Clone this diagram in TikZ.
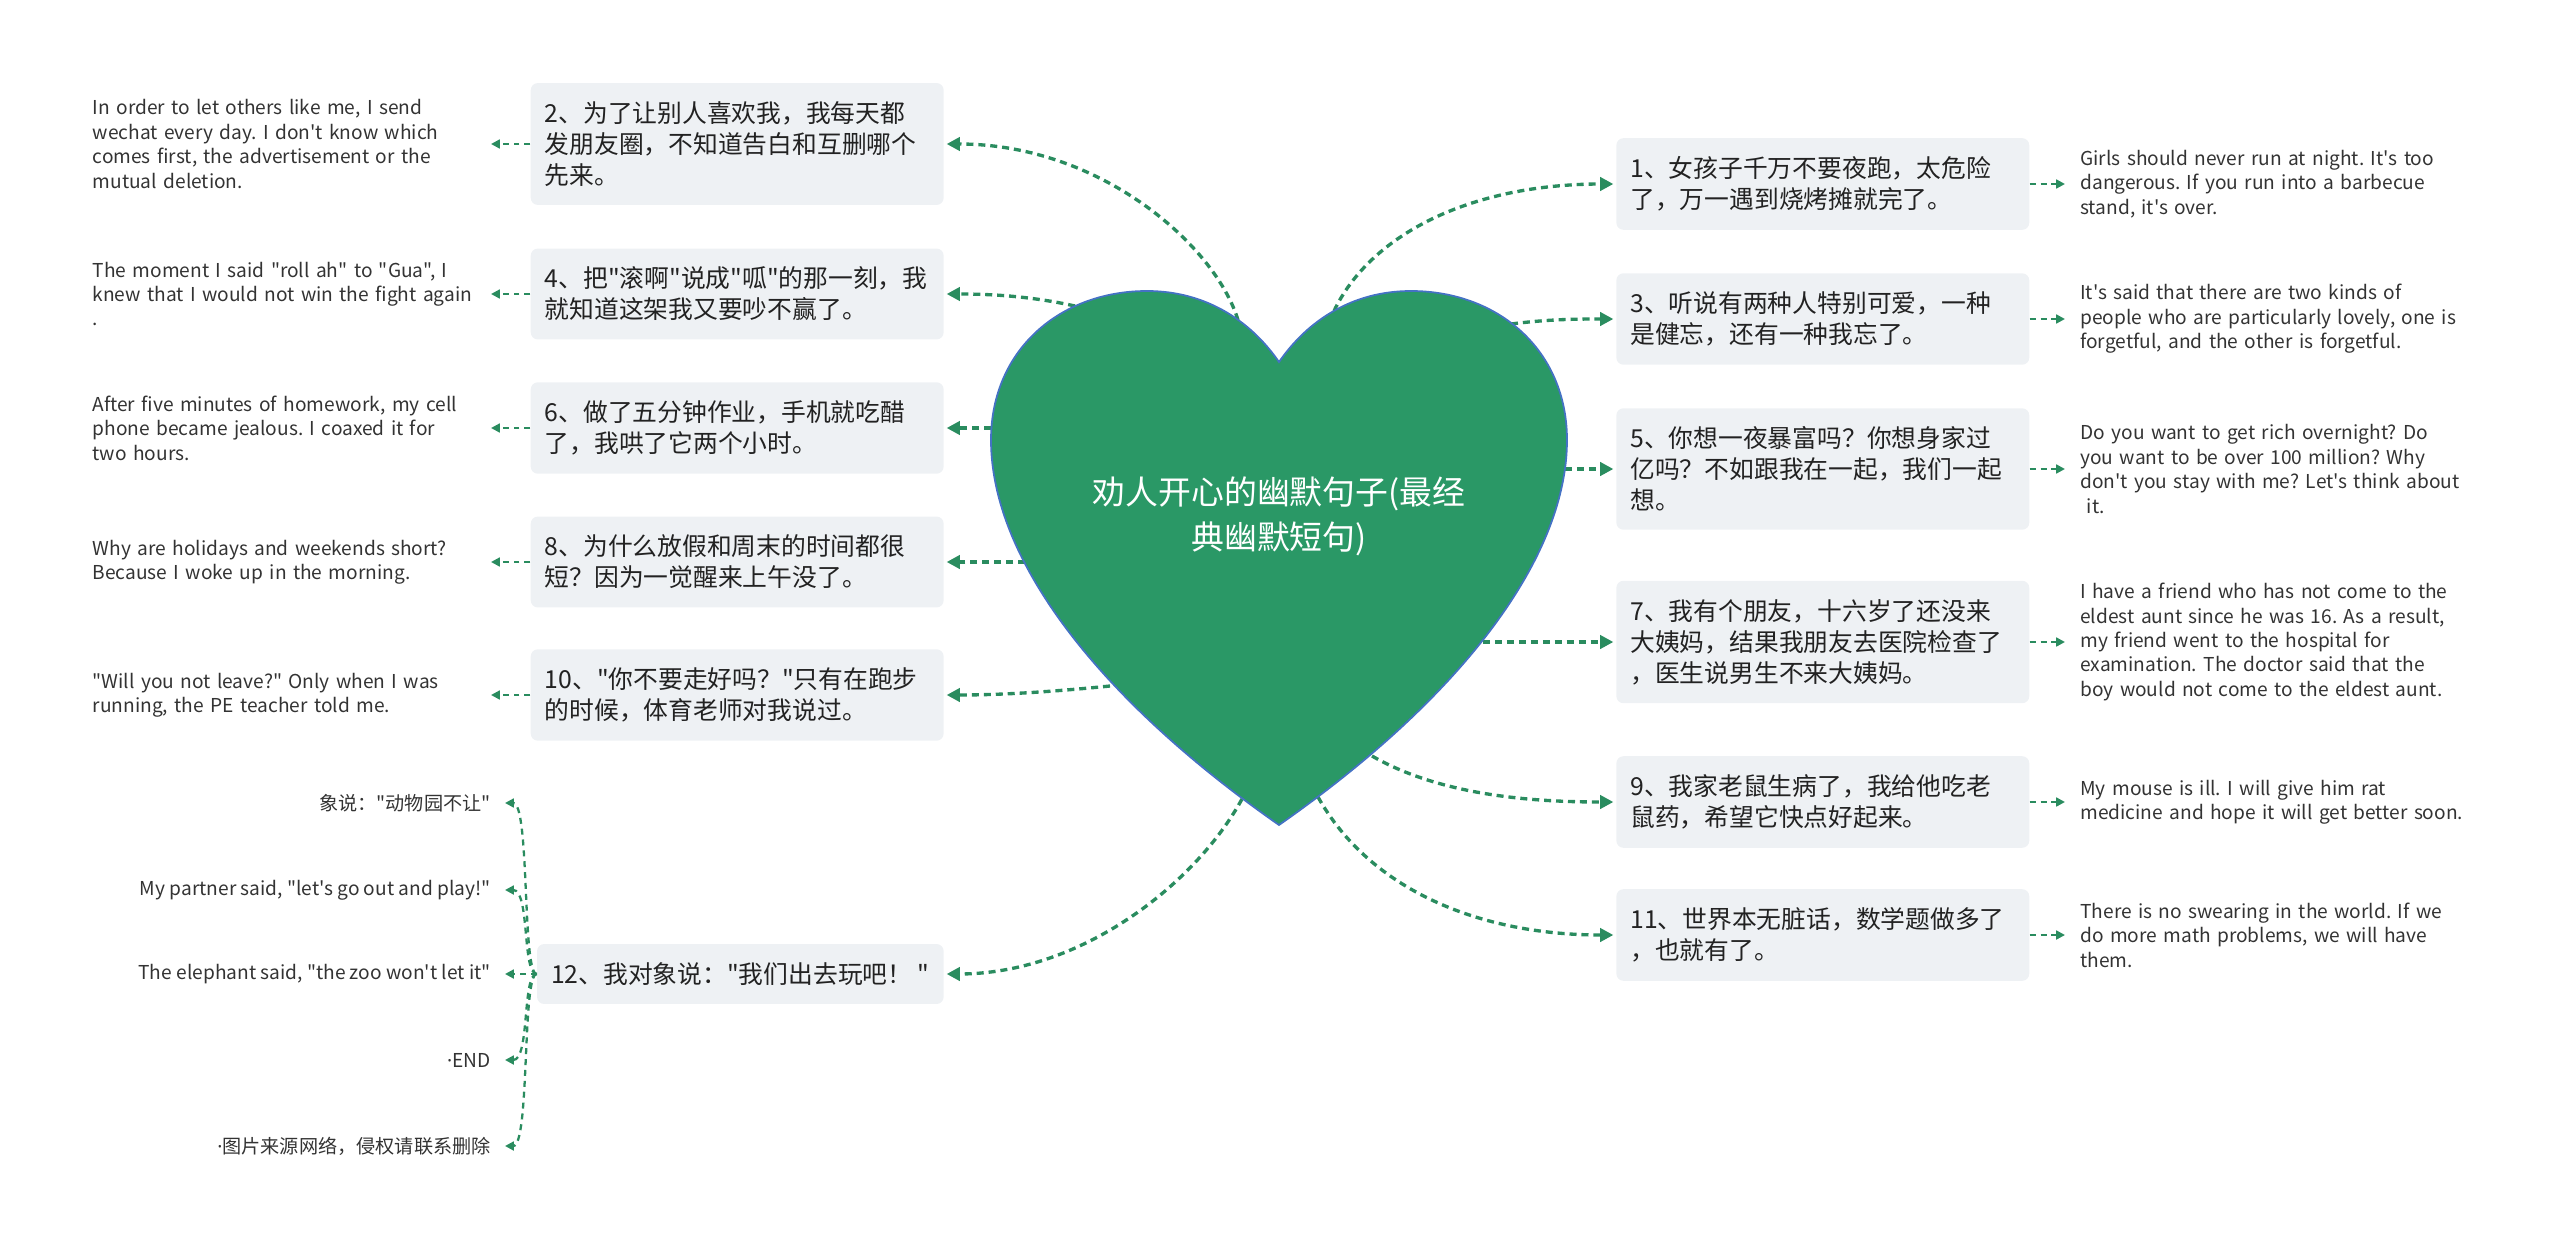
\documentclass[tikz,border=0pt]{standalone}
\usepackage{fontspec}
\newfontfamily\cjkfont{Noto Sans CJK SC}
\newfontfamily\latinfont{Noto Sans}
\usepackage{xcolor}
\usepackage{tikz}
\usetikzlibrary{arrows.meta}
\definecolor{linkgreen}{HTML}{2A8C5F}
\definecolor{heartgreen}{HTML}{2A9866}
\definecolor{heartedge}{HTML}{4472C4}
\definecolor{boxgray}{HTML}{EEF1F4}
\definecolor{ink}{HTML}{222222}
\definecolor{muted}{HTML}{333333}
\tikzset{
  topic/.style={
    fill=boxgray, rounded corners=4pt, text=ink, align=left,
    text width=7.7cm, inner xsep=0.28cm, inner ysep=0.37cm,
    font=\cjkfont\frenchspacing\fontsize{14.1}{17.6}\selectfont},
  leaf/.style={
    text=muted, align=left, inner xsep=0.3cm, inner ysep=0pt,
    font=\cjkfont\frenchspacing\fontsize{10.9}{13.9}\selectfont},
  rootlabel/.style={
    text=white, align=center, inner sep=0pt,
    font=\cjkfont\fontsize{18.7}{25.5}\selectfont},
  link/.style={
    draw=linkgreen, line width=1.9pt, dash pattern=on 4pt off 2.8pt,
    shorten >=1.5pt, -{Triangle[length=7.5pt,width=7.5pt]}},
  twig/.style={
    draw=linkgreen, line width=1.3pt, dash pattern=on 3.4pt off 2.8pt,
    -{Triangle[length=5pt,width=5pt]}},
}

\begin{document}
\begin{tikzpicture}[x=0.02cm, y=-0.02cm]
  \useasboundingbox (0,0) rectangle (2560,1251);

  % right branch
  \node[topic, anchor=west] (b1) at (1616,184)
    {1、女孩子千万不要夜跑，太危险\\了，万一遇到烧烤摊就完了。};
  \node[topic, anchor=west] (b3) at (1616,319)
    {3、听说有两种人特别可爱，一种\\是健忘，还有一种我忘了。};
  \node[topic, anchor=west] (b5) at (1616,469)
    {5、你想一夜暴富吗？你想身家过\\亿吗？不如跟我在一起，我们一起\\想。};
  \node[topic, anchor=west] (b7) at (1616,642)
    {7、我有个朋友，十六岁了还没来\\大姨妈，结果我朋友去医院检查了\\，医生说男生不来大姨妈。};
  \node[topic, anchor=west] (b9) at (1616,802)
    {9、我家老鼠生病了，我给他吃老\\鼠药，希望它快点好起来。};
  \node[topic, anchor=west] (b11) at (1616,935)
    {11、世界本无脏话，数学题做多了\\，也就有了。};

  \node[leaf, anchor=west, text width=9cm] (t1) at (2065,184)
    {Girls should never run at night. It's too\\dangerous. If you run into a barbecue\\stand, it's over.};
  \node[leaf, anchor=west, text width=9cm] (t3) at (2065,319)
    {It's said that there are two kinds of\\people who are particularly lovely, one is\\forgetful, and the other is forgetful.};
  \node[leaf, anchor=west, text width=9cm] (t5) at (2065,469)
    {Do you want to get rich overnight? Do\\you want to be over 100 million? Why\\don't you stay with me? Let's think about\\\ it.};
  \node[leaf, anchor=west, text width=9cm] (t7) at (2065,642)
    {I have a friend who has not come to the\\eldest aunt since he was 16. As a result,\\my friend went to the hospital for\\examination. The doctor said that the\\boy would not come to the eldest aunt.};
  \node[leaf, anchor=west, text width=9cm] (t9) at (2065,802)
    {My mouse is ill. I will give him rat\\medicine and hope it will get better soon.};
  \node[leaf, anchor=west, text width=9cm] (t11) at (2065,935)
    {There is no swearing in the world. If we\\do more math problems, we will have\\them.};

  % left branch
  \node[topic, anchor=east] (b2) at (944,144)
    {2、为了让别人喜欢我，我每天都\\发朋友圈，不知道告白和互删哪个\\先来。};
  \node[topic, anchor=east] (b4) at (944,294)
    {4、把"滚啊"说成"呱"的那一刻，我\\就知道这架我又要吵不赢了。};
  \node[topic, anchor=east] (b6) at (944,428)
    {6、做了五分钟作业，手机就吃醋\\了，我哄了它两个小时。};
  \node[topic, anchor=east] (b8) at (944,562)
    {8、为什么放假和周末的时间都很\\短？因为一觉醒来上午没了。};
  \node[topic, anchor=east] (b10) at (944,695)
    {10、"你不要走好吗？"只有在跑步\\的时候，体育老师对我说过。};
  \node[topic, anchor=east, text width=] (b12) at (944,974)
    {12、我对象说："我们出去玩吧！ "};

  \node[leaf, anchor=east, text width=7.86cm, inner xsep=0.1cm] (t2) at (491,144)
    {In order to let others like me, I send\\wechat every day. I don't know which\\comes first, the advertisement or the\\mutual deletion.};
  \node[leaf, anchor=east, text width=7.86cm, inner xsep=0.1cm] (t4) at (491,294)
    {The moment I said "roll ah" to "Gua", I\\knew that I would not win the fight again\\.};
  \node[leaf, anchor=east, text width=7.86cm, inner xsep=0.1cm] (t6) at (491,428)
    {After five minutes of homework, my cell\\phone became jealous. I coaxed it for\\two hours.};
  \node[leaf, anchor=east, text width=7.86cm, inner xsep=0.1cm] (t8) at (491,562)
    {Why are holidays and weekends short?\\Because I woke up in the morning.};
  \node[leaf, anchor=east, text width=7.86cm, inner xsep=0.1cm] (t10) at (491,695)
    {"Will you not leave?" Only when I was\\running, the PE teacher told me.};

  \node[leaf, anchor=east, align=right, inner xsep=0.28cm] (k1) at (505,803) {象说："动物园不让"};
  \node[leaf, anchor=east, align=right, inner xsep=0.28cm] (k2) at (505,890) {My partner said, "let's go out and play!"};
  \node[leaf, anchor=east, align=right, inner xsep=0.28cm] (k3) at (505,974) {The elephant said, "the zoo won't let it"};
  \node[leaf, anchor=east, align=right, inner xsep=0.28cm] (k4) at (505,1060) {{\latinfont ·}END};
  \node[leaf, anchor=east, align=right, inner xsep=0.28cm] (k5) at (505,1146) {{\latinfont ·}图片来源网络，侵权请联系删除};

  % points on the heart outline
  \coordinate (h1) at (1334,311);
  \coordinate (h3) at (1511,324);
  \coordinate (h5) at (1565,469);
  \coordinate (h7) at (1483,642);
  \coordinate (h9) at (1372,756);
  \coordinate (h11) at (1318,797);
  \coordinate (h2) at (1238,320);
  \coordinate (h4) at (1075,306);
  \coordinate (h6) at (991,428);
  \coordinate (h8) at (1025,562);
  \coordinate (h10) at (1110,686);
  \coordinate (h12) at (1242,799);

  \draw[link] (h1) .. controls (1370,235) and (1470,184) .. (b1.west);
  \draw[link] (h3) .. controls (1550,319) and (1580,319) .. (b3.west);
  \draw[link] (h5) -- (b5.west);
  \draw[link] (h7) -- (b7.west);
  \draw[link] (h9) .. controls (1440,795) and (1530,802) .. (b9.west);
  \draw[link] (h11) .. controls (1370,890) and (1480,935) .. (b11.west);
  \draw[link] (h2) .. controls (1215,245) and (1100,144) .. (b2.east);
  \draw[link] (h4) .. controls (1030,296) and (990,294) .. (b4.east);
  \draw[link] (h6) -- (b6.east);
  \draw[link] (h8) -- (b8.east);
  \draw[link] (h10) .. controls (1050,692) and (1000,695) .. (b10.east);
  \draw[link] (h12) .. controls (1195,885) and (1080,974) .. (b12.east);

  \foreach \i in {1,3,5,7,9,11} \draw[twig] (b\i.east) -- (t\i.west);
  \foreach \i in {2,4,6,8,10} \draw[twig] (b\i.west) -- (t\i.east);

  \draw[twig] (b12.west) .. controls (522,974) and (530,803) .. (k1.east);
  \draw[twig] (b12.west) .. controls (522,974) and (530,890) .. (k2.east);
  \draw[twig] (b12.west) -- (k3.east);
  \draw[twig] (b12.west) .. controls (522,974) and (530,1060) .. (k4.east);
  \draw[twig] (b12.west) .. controls (522,974) and (530,1146) .. (k5.east);

  % the heart
  \filldraw[fill=heartgreen, draw=heartedge, line width=1pt]
    (1279,362) .. controls (1250,320) and (1205,291) .. (1147,291)
    .. controls (1060,291) and (991,350) .. (991,440)
    .. controls (991,560) and (1100,700) .. (1279,825)
    .. controls (1458,700) and (1567,560) .. (1567,440)
    .. controls (1567,350) and (1498,291) .. (1411,291)
    .. controls (1353,291) and (1308,320) .. (1279,362) -- cycle;
  \node[rootlabel] (root) at (1279,516) {劝人开心的幽默句子(最经\\典幽默短句)};
\end{tikzpicture}
\end{document}
